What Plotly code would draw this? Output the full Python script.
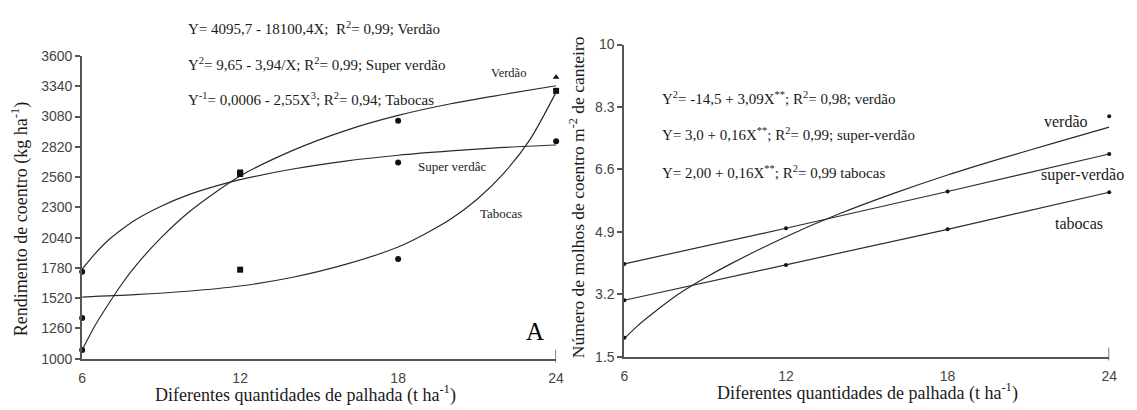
import plotly.graph_objects as go

W, H = 1137, 410

# ---------------- Left panel data (kg/ha) ----------------
x_obs = [6, 12, 18, 24]
verdao_obs = [1075, 2587, 3044, 3417]
super_obs = [1748, 2600, 2686, 2869]
tabocas_obs = [1349, 1765, 1857, 3301]

verdao_sym = ["circle", "square", "circle", "triangle-up"]
super_sym = ["circle", "square", "circle", "circle"]
tabocas_sym = ["circle", "square", "circle", "square"]

# fitted curves
x_fit_v = [6, 6.5, 7, 7.5, 8, 9, 10, 11, 12, 14, 16, 18, 20, 22, 24]
verdao_fit = [1075, 1290, 1470, 1640, 1790, 2040, 2250, 2420, 2570, 2790, 2960, 3090, 3190, 3270, 3345]
x_fit_s = [6, 6.5, 7, 7.5, 8, 9, 10, 11, 12, 14, 16, 18, 20, 22, 24]
super_fit = [1770, 1905, 2020, 2110, 2190, 2310, 2405, 2478, 2538, 2630, 2698, 2748, 2785, 2815, 2836]
x_fit_t = [6, 8, 10, 12, 14, 16, 18, 19, 20, 21, 22, 23, 24]
tabocas_fit = [1530, 1550, 1580, 1625, 1700, 1810, 1960, 2070, 2200, 2370, 2590, 2880, 3290]

left_yticks = [1000, 1260, 1520, 1780, 2040, 2300, 2560, 2820, 3080, 3340, 3600]
x_ticks = [6, 12, 18, 24]

# ---------------- Right panel data (molhos / m2) ----------------
r_verdao_x = [6, 24]
r_verdao_obs = [2.02, 8.05]
r_super_obs = [4.03, 5.0, 6.0, 7.02]
r_tabocas_obs = [3.04, 4.0, 4.97, 5.98]
r_fit_x = [6, 6.5, 7, 8, 9, 10, 12, 14, 16, 18, 20, 22, 24]
r_verdao_fit = [2.0, 2.35, 2.65, 3.2, 3.65, 4.05, 4.77, 5.4, 5.95, 6.45, 6.9, 7.33, 7.75]
r_yticks = [1.5, 3.2, 4.9, 6.6, 8.3, 10]
r_yticklabels = ["1.5", "3.2", "4.9", "6.6", "8.3", "10"]

LINE = "#2b2b2b"
AX = "#555555"
SERIF = "Liberation Serif"
SANS = "Liberation Sans"

fig = go.Figure()

def curve(x, y, xa, ya):
    fig.add_trace(go.Scatter(x=x, y=y, mode="lines", xaxis=xa, yaxis=ya,
                             line=dict(color=LINE, width=1.2, shape="spline", smoothing=0.8),
                             showlegend=False, hoverinfo="skip"))

def pts(x, y, sym, size, xa, ya):
    fig.add_trace(go.Scatter(x=x, y=y, mode="markers", xaxis=xa, yaxis=ya,
                             marker=dict(color="#111111", size=size, symbol=sym),
                             cliponaxis=False, showlegend=False))

# left
curve(x_fit_v, verdao_fit, "x", "y")
curve(x_fit_s, super_fit, "x", "y")
curve(x_fit_t, tabocas_fit, "x", "y")
pts(x_obs, verdao_obs, verdao_sym, 6, "x", "y")
pts(x_obs, super_obs, super_sym, 6, "x", "y")
pts(x_obs, tabocas_obs, tabocas_sym, 6, "x", "y")

# right
curve(r_fit_x, r_verdao_fit, "x2", "y2")
fig.add_trace(go.Scatter(x=x_obs, y=r_super_obs, mode="lines+markers", xaxis="x2", yaxis="y2",
                         line=dict(color=LINE, width=1.2), marker=dict(color="#111111", size=4),
                         cliponaxis=False, showlegend=False))
fig.add_trace(go.Scatter(x=x_obs, y=r_tabocas_obs, mode="lines+markers", xaxis="x2", yaxis="y2",
                         line=dict(color=LINE, width=1.2), marker=dict(color="#111111", size=4),
                         cliponaxis=False, showlegend=False))
pts(r_verdao_x, r_verdao_obs, "circle", 4, "x2", "y2")

def px_x(p):
    return p / W

def px_y(p):
    return 1 - p / H

xaxis_common = dict(range=[6, 24], tickvals=x_ticks, ticks="", showline=True, linecolor=AX,
                    linewidth=2, showgrid=False, zeroline=False, ticklabelstandoff=5,
                    tickfont=dict(family=SANS, size=14, color="#444444"))
yaxis_common = dict(showline=True, linecolor=AX, linewidth=2, showgrid=False, zeroline=False,
                    ticks="outside", ticklen=5, tickwidth=1.5, tickcolor=AX,
                    tickfont=dict(family=SANS, size=14, color="#444444"))

fig.update_layout(
    width=W, height=H, margin=dict(l=0, r=0, t=0, b=0),
    paper_bgcolor="white", plot_bgcolor="white",
    xaxis=dict(domain=[px_x(79), px_x(558)], anchor="y", **xaxis_common),
    yaxis=dict(domain=[px_y(365), px_y(50)], anchor="x", range=[1000, 3600],
               tickvals=left_yticks, **yaxis_common),
    xaxis2=dict(domain=[px_x(627), px_x(1117)], anchor="y2", **xaxis_common),
    yaxis2=dict(domain=[px_y(363), px_y(38)], anchor="x2", range=[1.5, 10],
                tickvals=r_yticks, ticktext=r_yticklabels, **yaxis_common),
)

# end ticks at x = 24
for xa, ya in (("x", "y"), ("x2", "y2")):
    fig.add_shape(type="line", xref=xa, yref=ya + " domain", x0=24, x1=24, y0=-0.012, y1=0.03,
                  line=dict(color=AX, width=1.5))

def ann(text, x, y, size=13, xanchor="left", angle=0, family=SERIF, color="#1a1a1a"):
    fig.add_annotation(text=text, x=px_x(x), y=px_y(y), xref="paper", yref="paper",
                       showarrow=False, xanchor=xanchor, yanchor="middle", textangle=angle,
                       font=dict(family=family, size=size, color=color))

# left equations
ann("Y= 4095,7 - 18100,4X;  R<sup>2</sup>= 0,99; Verdão", 184, 21, size=15)
ann("Y<sup>2</sup>= 9,65 - 3,94/X; R<sup>2</sup>= 0,99; Super verdão", 184, 58, size=15)
ann("Y<sup>-1</sup>= 0,0006 - 2,55X<sup>3</sup>; R<sup>2</sup>= 0,94; Tabocas", 184, 95, size=15)
# left series labels
ann("Verdão", 510, 68, size=12.5, xanchor="center")
ann("Super verdâc", 453, 165, size=13, xanchor="center")
ann("Tabocas", 502, 214, size=13, xanchor="center")
ann("A", 537, 337, size=25, xanchor="center", color="#000000")
# right equations
ann("Y<sup>2</sup>= -14,5 + 3,09X<sup>**</sup>; R<sup>2</sup>= 0,98; verdão", 663, 94, size=15)
ann("Y= 3,0 + 0,16X<sup>**</sup>; R<sup>2</sup>= 0,99; super-verdão", 663, 131, size=15)
ann("Y= 2,00 + 0,16X<sup>**</sup>; R<sup>2</sup>= 0,99 tabocas", 663, 171, size=15)
# right series labels
ann("verdão", 1073, 118, size=16, xanchor="center")
ann("super-verdão", 1090, 174, size=16, xanchor="center")
ann("tabocas", 1086, 224, size=16, xanchor="center")
# axis titles
ann("Diferentes quantidades de palhada (t ha<sup>-1</sup>)", 305, 402, size=18, xanchor="center")
ann("Diferentes quantidades de palhada (t ha<sup>-1</sup>)", 873, 400, size=18, xanchor="center")
ann("Rendimento de coentro (kg ha<sup>-1</sup>)", 17, 220, size=18, xanchor="center", angle=-90)
ann("Número de molhos de coentro m<sup>-2</sup> de canteiro", 579, 197, size=17.5, xanchor="center", angle=-90)

fig.write_html("out.html")
